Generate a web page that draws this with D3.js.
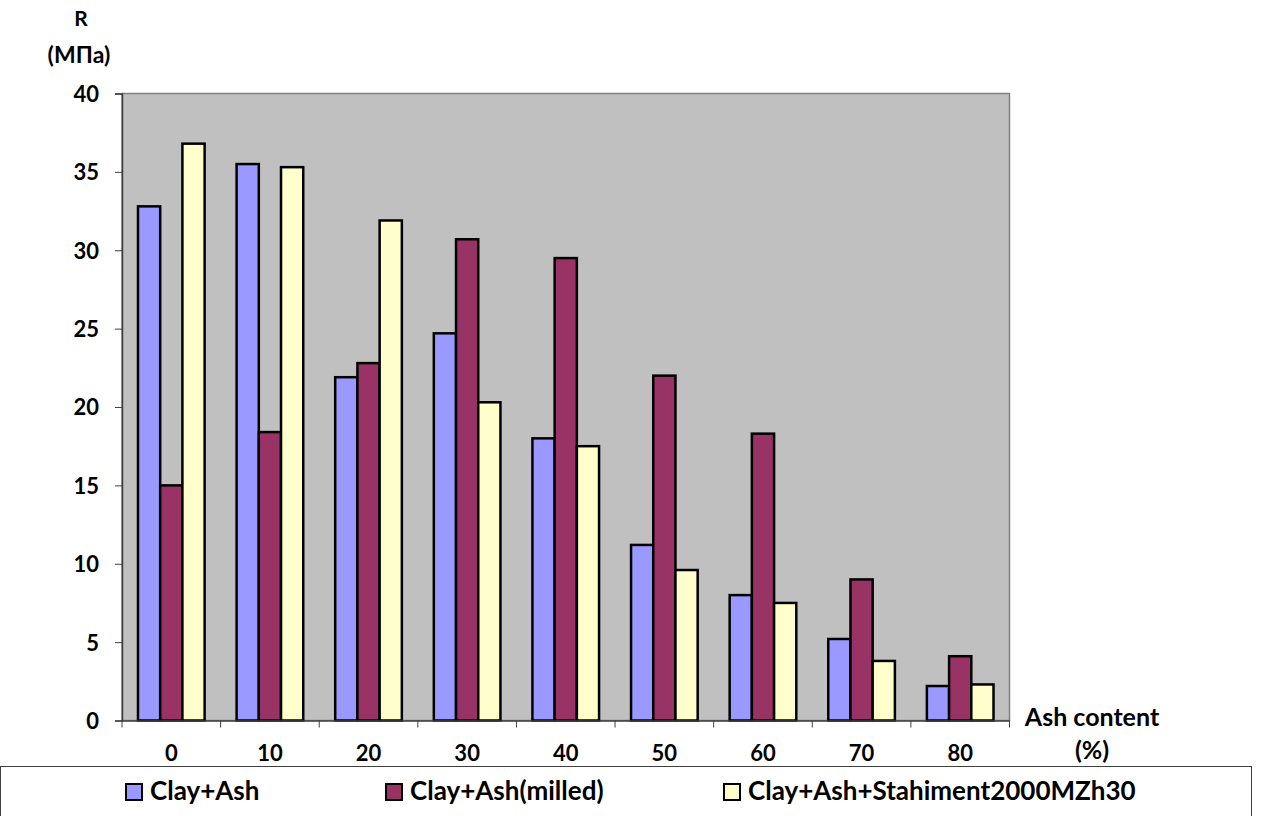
<!DOCTYPE html>
<html>
<head>
<meta charset="utf-8">
<script src="https://cdn.jsdelivr.net/npm/d3@7"></script>
<style>
  html, body { margin: 0; padding: 0; background: #fff; }
  svg { display: block; }
  text { font-family: Lato, "Open Sans", sans-serif; font-weight: bold; fill: #000; }
</style>
</head>
<body>
<svg id="chart" width="1261" height="816"></svg>
<script>
// Ash content categories (%)
const categories = ["0", "10", "20", "30", "40", "50", "60", "70", "80"];
// Compressive strength R (MPa) per mixture
const clayAsh       = [32.8, 35.5, 21.9, 24.7, 18.0, 11.2, 8.0, 5.2, 2.2];
const clayAshMilled = [15.0, 18.4, 22.8, 30.7, 29.5, 22.0, 18.3, 9.0, 4.1];
const clayAshStahi  = [36.8, 35.3, 31.9, 20.3, 17.5, 9.6, 7.5, 3.8, 2.3];
const seriesNames   = ["Clay+Ash", "Clay+Ash(milled)", "Clay+Ash+Stahiment2000MZh30"];
const seriesColors  = ["#9999FF", "#993366", "#FFFFCC"];
const yTicks        = [0, 5, 10, 15, 20, 25, 30, 35, 40];

const series = [clayAsh, clayAshMilled, clayAshStahi];

const svg = d3.select("#chart");
const plot = { left: 122, right: 1009.5, top: 93.5, bottom: 720.5 };

const x = d3.scaleBand().domain(categories).range([plot.left, plot.right]).paddingInner(0).paddingOuter(0);
const inner = d3.scaleBand().domain(d3.range(series.length)).range([0, x.bandwidth()]).paddingInner(0).paddingOuter(0.72);
const y = d3.scaleLinear().domain([0, 40]).range([plot.bottom, plot.top]);

// plot background
svg.append("rect")
  .attr("x", plot.left).attr("y", plot.top)
  .attr("width", plot.right - plot.left).attr("height", plot.bottom - plot.top)
  .attr("fill", "#C0C0C0").attr("stroke", "#808080").attr("stroke-width", 1.5);

// bars
const groups = svg.append("g").selectAll("g")
  .data(categories)
  .join("g")
  .attr("transform", d => `translate(${x(d)},0)`);

groups.selectAll("rect")
  .data((d, i) => series.map((s, k) => ({ k, v: s[i] })))
  .join("rect")
  .attr("x", d => inner(d.k))
  .attr("width", inner.bandwidth())
  .attr("y", d => y(d.v))
  .attr("height", d => y(0) - y(d.v))
  .attr("fill", d => seriesColors[d.k])
  .attr("stroke", "#000")
  .attr("stroke-width", 2.5);

// y axis
const yAxis = svg.append("g")
  .attr("transform", `translate(${plot.left},0)`)
  .call(d3.axisLeft(y).tickValues(yTicks).tickSize(7).tickPadding(16).tickFormat(d3.format("d")));
yAxis.select(".domain").attr("stroke", "#404040").attr("stroke-width", 1.5);
yAxis.selectAll(".tick line").attr("stroke", "#404040");
yAxis.selectAll("text").style("font-size", "22px").attr("dy", "0.36em");

// x axis
const xAxis = svg.append("g")
  .attr("transform", `translate(0,${plot.bottom})`)
  .call(d3.axisBottom(x).tickSize(0).tickPadding(25));
xAxis.select(".domain").attr("stroke", "#404040").attr("stroke-width", 1.5);
xAxis.selectAll("text").style("font-size", "22px");
// boundary ticks between categories
const bounds = categories.map(c => x(c)).concat([plot.right]);
xAxis.selectAll("line.bound")
  .data(bounds)
  .join("line")
  .attr("class", "bound")
  .attr("x1", d => d).attr("x2", d => d)
  .attr("y1", 0).attr("y2", 7)
  .attr("stroke", "#404040").attr("stroke-width", 1);

// axis titles
svg.append("text").attr("x", 81).attr("y", 26).attr("text-anchor", "middle").style("font-size", "21px").text("R");
svg.append("text").attr("x", 79).attr("y", 63).attr("text-anchor", "middle").style("font-size", "23px").text("(MПa)");
svg.append("text").attr("x", 1092).attr("y", 726).attr("text-anchor", "middle").style("font-size", "25px").text("Ash content");
svg.append("text").attr("x", 1092).attr("y", 759).attr("text-anchor", "middle").style("font-size", "25px").text("(%)");

// legend
svg.append("rect")
  .attr("x", 0.5).attr("y", 766.5).attr("width", 1251).attr("height", 60)
  .attr("fill", "#fff").attr("stroke", "#404040").attr("stroke-width", 1);

const legendX = [126, 386, 724];
const leg = svg.append("g").selectAll("g")
  .data(seriesNames)
  .join("g")
  .attr("transform", (d, i) => `translate(${legendX[i]},784)`);
leg.append("rect")
  .attr("x", 0).attr("y", 0).attr("width", 16).attr("height", 16)
  .attr("fill", (d, i) => seriesColors[i])
  .attr("stroke", "#000").attr("stroke-width", 2);
leg.append("text")
  .attr("x", 24).attr("y", 16)
  .style("font-size", "26px")
  .text(d => d);
</script>
</body>
</html>
